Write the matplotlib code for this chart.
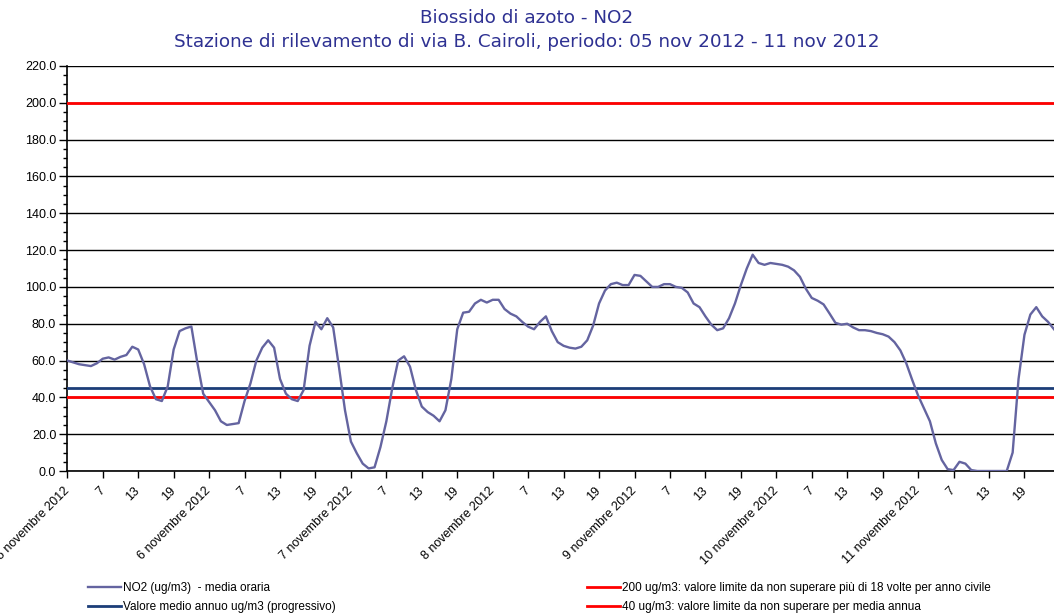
import numpy as np
import matplotlib
matplotlib.use("Agg")
import matplotlib.pyplot as plt
from matplotlib.ticker import MultipleLocator, FormatStrFormatter

# valori orari NO2 (ug/m3), dal 5 nov 2012 ore 1 all'11 nov 2012 ore 24
no2 = [
    60, 59, 58, 57.5, 57, 58.5, 61, 61.7, 60.5, 62, 63, 67.5,
    66, 58, 46, 39, 38, 46, 66, 76, 77.5, 78.5, 59, 42,
    37.5, 33, 27, 25, 25.5, 26, 38, 47.6, 60, 67, 71, 67,
    50, 42, 39, 38, 44, 68, 81, 77, 83, 78, 56, 33,
    16, 9.6, 4, 1.4, 2, 13, 27, 45, 60, 62.3, 56.7, 44,
    35, 32, 30, 27, 33, 50, 77, 86, 86.5, 91, 93, 91.5,
    93, 93, 88, 85.5, 84, 81, 78.4, 77, 81, 84, 76, 70,
    68, 67, 66.5, 67.5, 71, 79, 91, 98, 101.5, 102.3, 101, 101,
    106.5, 106, 103, 100, 100, 101.5, 101.5, 100, 99.5, 97, 91, 89,
    84, 79.5, 76.5, 77.5, 83, 91, 101, 110, 117.5, 113, 112, 113,
    112.5, 112, 111, 109, 105.5, 99, 94, 92.5, 90.5, 85.6, 80.5, 79.5,
    80, 78, 76.5, 76.5, 76, 75, 74.3, 73, 70, 65.5, 58.5, 49.5,
    41, 34, 27, 15, 6, 1, 0.5, 5, 4, 0.5, 0, 0,
    0, 0, 0, 0, 10, 50, 74, 85, 89, 84, 81, 77,
]
media_annua = 45.0
limite_orario = 200.0
limite_annuo = 40.0

giorni = [5, 6, 7, 8, 9, 10, 11]
ore_etichetta = [1, 7, 13, 19]

plt.rcParams['font.family'] = ['Liberation Sans', 'DejaVu Sans']

fig = plt.figure(figsize=(10.54, 6.15), dpi=100)
ax = fig.add_axes([67.3 / 1054, 1 - 471 / 615, 1 - 67.3 / 1054, (471 - 66) / 615])

x = np.arange(len(no2))
l1, = ax.plot(x, no2, color='#6464a0', lw=1.7, zorder=4,
              label='NO2 (ug/m3)  - media oraria')
l2 = ax.axhline(media_annua, color='#1c3d78', lw=2, zorder=3,
                label='Valore medio annuo ug/m3 (progressivo)')
l3 = ax.axhline(limite_orario, color='#ff0000', lw=2, zorder=3,
                label='200 ug/m3: valore limite da non superare più di 18 volte per anno civile')
l4 = ax.axhline(limite_annuo, color='#ff0000', lw=2, zorder=3,
                label='40 ug/m3: valore limite da non superare per media annua')

ax.set_xlim(0, len(no2) - 1)
ax.set_ylim(0, 220)

ax.yaxis.set_major_locator(MultipleLocator(20))
ax.yaxis.set_minor_locator(MultipleLocator(5))
ax.yaxis.set_major_formatter(FormatStrFormatter('%.1f'))
ax.grid(axis='y', which='major', color='black', lw=1)
ax.set_axisbelow(True)

pos = []
lab = []
for d in giorni:
    for h in ore_etichetta:
        pos.append((d - giorni[0]) * 24 + h - 1)
        lab.append(f'{d} novembre 2012' if h == 1 else str(h))
ax.set_xticks(pos)
ax.set_xticklabels(lab, rotation=45, ha='right', va='center',
                   rotation_mode='anchor', fontsize=9)

ax.tick_params(axis='y', which='major', length=6, width=1, labelsize=9, pad=2)
ax.tick_params(axis='y', which='minor', length=3, width=1)
ax.tick_params(axis='x', length=5, width=1, pad=8)
for s in ['top', 'right']:
    ax.spines[s].set_visible(False)
for s in ['left', 'bottom']:
    ax.spines[s].set_linewidth(1.2)

fig.text(0.5, 1 - 18 / 615, 'Biossido di azoto - NO2', ha='center', va='center',
         fontsize=13.2, color='#2e3192', family='DejaVu Sans')
fig.text(0.5, 1 - 42 / 615,
         'Stazione di rilevamento di via B. Cairoli, periodo: 05 nov 2012 - 11 nov 2012',
         ha='center', va='center', fontsize=13.2, color='#2e3192', family='DejaVu Sans')

leg_kw = dict(frameon=False, fontsize=8.5, handlelength=2.8, handletextpad=0.2,
              labelspacing=0.6, borderaxespad=0, borderpad=0)
fig.legend(handles=[l1, l2], loc='upper left',
           bbox_to_anchor=(88 / 1054, 1 - 582 / 615), **leg_kw)
fig.legend(handles=[l3, l4], loc='upper left',
           bbox_to_anchor=(587 / 1054, 1 - 582 / 615), **leg_kw)

fig.savefig('out.png', dpi=100)
